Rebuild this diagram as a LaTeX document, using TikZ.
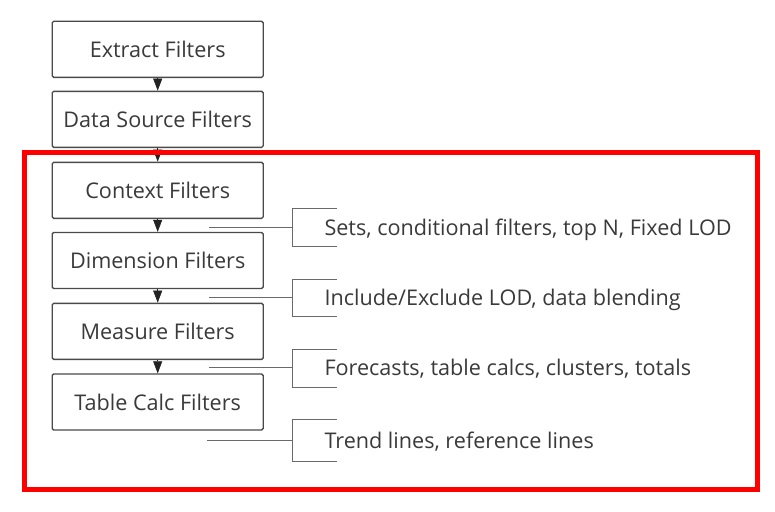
\documentclass[tikz,border=0pt]{standalone}
\usepackage{fontspec}
\setmainfont{Open Sans}
\usetikzlibrary{arrows.meta}
\definecolor{txt}{HTML}{3A3A3A}
\definecolor{boxc}{HTML}{4A4A4A}
\definecolor{tipc}{HTML}{222222}
\definecolor{linec}{HTML}{6A6A6A}
\definecolor{redc}{HTML}{FF0000}
\begin{document}
\begin{tikzpicture}[x=1pt,y=-1pt,
  filterbox/.style={draw=boxc, line width=1.4pt, rounded corners=1.5pt, minimum width=211pt, minimum height=56pt, inner sep=0pt, text=txt, font=\fontsize{21.6}{24}\selectfont},
  flowarrow/.style={draw=tipc, line width=0.5pt, -{Triangle[width=9pt,length=12pt]}, tipc},
  conn/.style={draw=linec, line width=1.2pt},
  label/.style={anchor=base west, inner sep=0pt, text=txt, font=\fontsize{21.6}{24}\selectfont}]
\useasboundingbox (0,0) rectangle (775,511);
\fill[white] (0,0) rectangle (775,511);
% boxes
\node[filterbox] (ext) at (157.7,49.3) {Extract Filters};
\node[filterbox] (ds)  at (157.7,119.3) {Data Source Filters};
\node[filterbox] (ctx) at (157.7,190.3) {Context Filters};
\node[filterbox] (dim) at (157.7,260.5) {Dimension Filters};
\node[filterbox] (mea) at (157.7,331.3) {Measure Filters};
\node[filterbox] (tc)  at (157.7,402) {Table Calc Filters};
% arrows
\draw[flowarrow] (ext.south) -- (ds.north);
\draw[flowarrow] (ds.south) -- (ctx.north);
\draw[flowarrow] (ctx.south) -- (dim.north);
\draw[flowarrow] (dim.south) -- (mea.north);
\draw[flowarrow] (mea.south) -- (tc.north);
% bracket anchors
\coordinate (s1) at (209,227.6);
\coordinate (s2) at (209,297.7);
\coordinate (s3) at (209,367.7);
\coordinate (s4) at (207,440.6);
\coordinate (b1) at (292.3,227.6);
\coordinate (b2) at (292.3,297.7);
\coordinate (b3) at (292.3,367.7);
\coordinate (b4) at (292.3,440.6);
\draw[conn] (s1) -- (b1);
\draw[conn] (s2) -- (b2);
\draw[conn] (s3) -- (b3);
\draw[conn] (s4) -- (b4);
% brackets
\draw[conn] (337,208.5) -- (292.3,208.5) -- (292.3,246.7) -- (337,246.7);
\draw[conn] (337,279.2) -- (292.3,279.2) -- (292.3,316.7) -- (337,316.7);
\draw[conn] (337,349.3) -- (292.3,349.3) -- (292.3,387.3) -- (337,387.3);
\draw[conn] (337,419.8) -- (292.3,419.8) -- (292.3,461.7) -- (337,461.7);
% labels
\node[label] (l1) at (324.3,235.5) {Sets, conditional filters, top N, Fixed LOD};
\node[label] (l2) at (324.3,305.5) {Include/Exclude LOD, data blending};
\node[label] (l3) at (324.3,375.5) {Forecasts, table calcs, clusters, totals};
\node[label] (l4) at (324.3,448.5) {Trend lines, reference lines};
% red frame
\draw[redc, line width=5pt] (24.3,152) rectangle (757.5,489);
\end{tikzpicture}
\end{document}
